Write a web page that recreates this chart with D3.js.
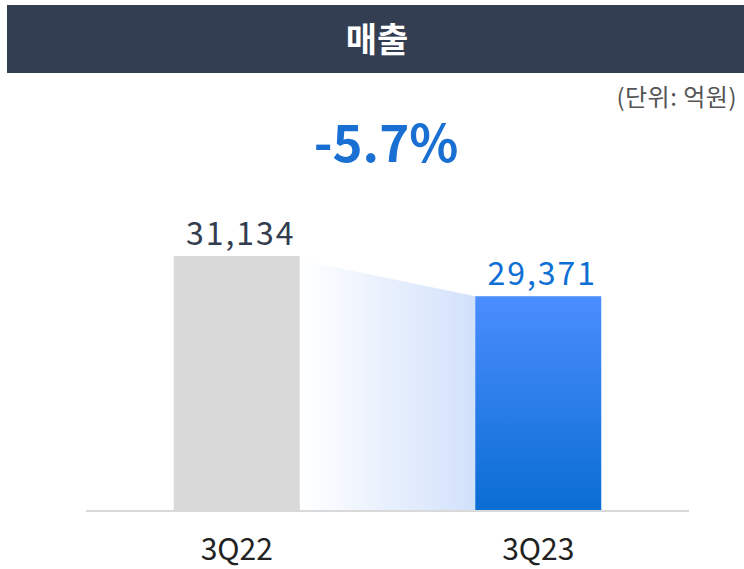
<!DOCTYPE html>
<html>
<head>
<meta charset="utf-8">
<script src="https://cdn.jsdelivr.net/npm/d3@7"></script>
<style>
  body { margin: 0; background: #fff; }
  svg { display: block; font-family: "Noto Sans CJK KR", "Noto Sans", sans-serif; }
</style>
</head>
<body>
<svg id="chart" width="744" height="569"></svg>
<script>
var title = '매출';
var unit = '(단위: 억원)';
var categories = ['3Q22', '3Q23'];
var values = [31134, 29371];
var changeLabel = '-5.7%';

var svg = d3.select('#chart');
var W = 744, H = 569;
var baseY = 510;

var defs = svg.append('defs');
var gBlue = defs.append('linearGradient')
    .attr('id', 'blueBar').attr('x1', 0).attr('y1', 0).attr('x2', 0).attr('y2', 1);
gBlue.append('stop').attr('offset', '0%').attr('stop-color', '#4b8dff');
gBlue.append('stop').attr('offset', '100%').attr('stop-color', '#0a6dd4');

var gFlow = defs.append('linearGradient')
    .attr('id', 'flow').attr('x1', 0).attr('y1', 0).attr('x2', 1).attr('y2', 0);
gFlow.append('stop').attr('offset', '0%').attr('stop-color', '#ffffff');
gFlow.append('stop').attr('offset', '100%').attr('stop-color', '#d2e1fb');

// title bar
svg.append('rect')
    .attr('x', 7).attr('y', 5).attr('width', W - 7).attr('height', 68)
    .attr('fill', '#343e52');
svg.append('text')
    .attr('x', 377).attr('y', 52)
    .attr('text-anchor', 'middle')
    .attr('font-size', 34).attr('font-weight', 'bold')
    .attr('fill', '#fff')
    .text(title);

svg.append('text')
    .attr('x', 737).attr('y', 106)
    .attr('text-anchor', 'end')
    .attr('font-size', 24)
    .attr('letter-spacing', 0.5)
    .attr('fill', '#555')
    .text(unit);

svg.append('text')
    .attr('x', 386).attr('y', 162)
    .attr('text-anchor', 'middle')
    .attr('font-size', 51).attr('font-weight', 'bold')
    .attr('fill', '#1a6fd2')
    .text(changeLabel);

var x = d3.scalePoint()
    .domain(categories)
    .range([86, 689])
    .padding(0.5);

var y = d3.scaleLinear()
    .domain([20000, values[0]])
    .range([baseY, 256]);

var barW = 126;

// connector between bars
var xa = x(categories[0]) + barW / 2, xb = x(categories[1]) - barW / 2;
svg.append('path')
    .attr('d', d3.line()([[xa, y(values[0]) + 4], [xb, y(values[1])], [xb, baseY], [xa, baseY]]) + 'Z')
    .attr('fill', 'url(#flow)');

svg.selectAll('rect.bar')
    .data(values)
    .enter()
    .append('rect')
    .attr('class', 'bar')
    .attr('x', function(d, i) { return x(categories[i]) - barW / 2; })
    .attr('y', function(d) { return y(d); })
    .attr('width', barW)
    .attr('height', function(d) { return baseY - y(d); })
    .attr('fill', function(d, i) { return i == 0 ? '#d9d9d9' : 'url(#blueBar)'; });

// baseline
svg.append('line')
    .attr('x1', 86).attr('x2', 689)
    .attr('y1', baseY + 1).attr('y2', baseY + 1)
    .attr('stroke', '#d9d9d9').attr('stroke-width', 2);

svg.selectAll('text.val')
    .data(values)
    .enter()
    .append('text')
    .attr('class', 'val')
    .attr('x', function(d, i) { return x(categories[i]) + 4; })
    .attr('y', function(d) { return y(d) - 11; })
    .attr('text-anchor', 'middle')
    .attr('font-size', 32)
    .attr('letter-spacing', 2)
    .attr('fill', function(d, i) { return i == 0 ? '#333d4f' : '#0e6fd4'; })
    .text(function(d) { return d3.format(',')(d); });

svg.selectAll('text.cat')
    .data(categories)
    .enter()
    .append('text')
    .attr('class', 'cat')
    .attr('x', function(d) { return x(d); })
    .attr('y', 560)
    .attr('text-anchor', 'middle')
    .attr('font-size', 30)
    .attr('fill', '#222')
    .text(function(d) { return d; });
</script>
</body>
</html>
